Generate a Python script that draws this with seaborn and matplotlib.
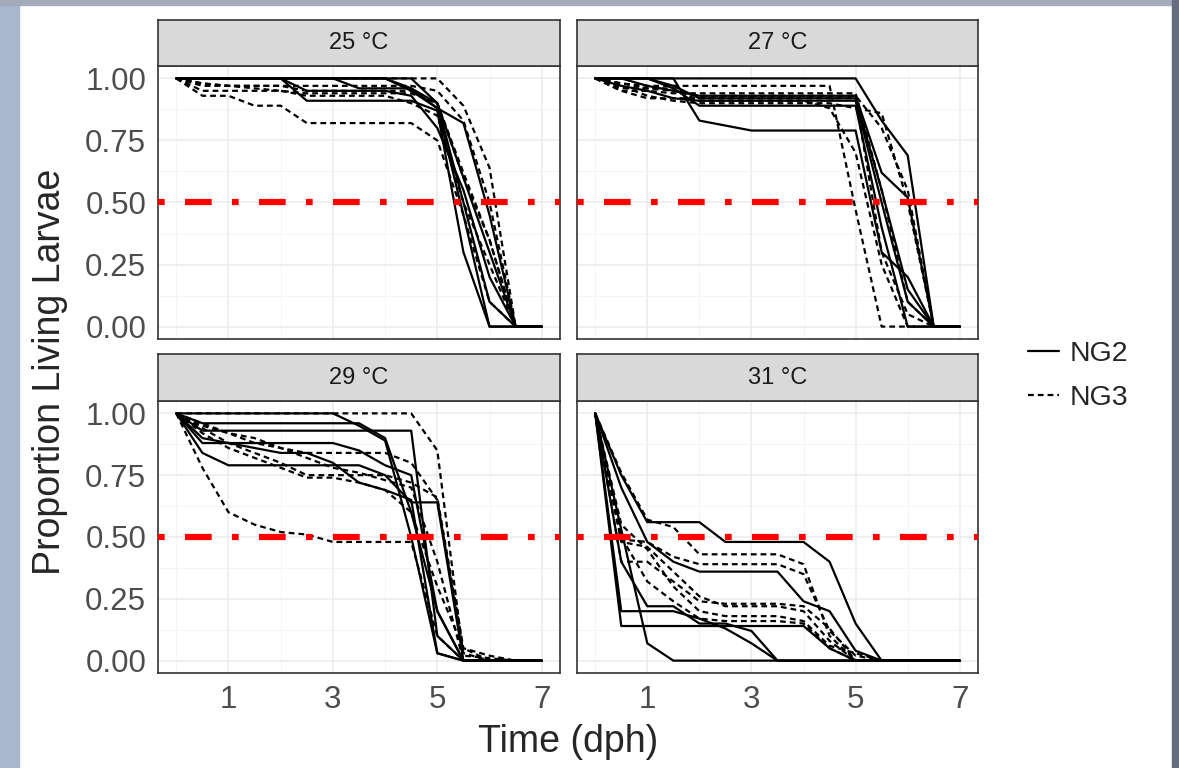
import matplotlib
matplotlib.use("Agg")
import matplotlib.pyplot as plt
import pandas as pd
import seaborn as sns
from matplotlib.lines import Line2D
from matplotlib.patches import Rectangle
from matplotlib.ticker import FormatStrFormatter

# ---- data (proportion of living larvae per replicate) ----
time_dph = [0, 0.5, 1, 1.5, 2, 2.5, 3, 3.5, 4, 4.5, 5, 5.5, 6, 6.5, 7]
temps = ["25 °C", "27 °C", "29 °C", "31 °C"]
strains = ["NG2", "NG3"]

ng2_25 = [
    [1, 1, 1, 1, 1, 1, 1, 1, 1, 0.95, 0.88, 0.45, 0, 0, 0],
    [1, 1, 1, 1, 1, 0.91, 0.91, 0.91, 0.91, 0.91, 0.87, 0.30, 0, 0, 0],
    [1, 1, 1, 1, 1, 1, 1, 0.96, 0.96, 0.96, 0.90, 0.60, 0.30, 0, 0],
    [1, 1, 1, 1, 1, 1, 1, 1, 1, 0.96, 0.88, 0.82, 0.45, 0, 0],
    [1, 1, 1, 1, 1, 0.95, 0.95, 0.95, 0.95, 0.93, 0.80, 0.55, 0.20, 0, 0],
    [1, 1, 1, 1, 1, 1, 1, 1, 1, 1, 0.90, 0.50, 0.10, 0, 0],
]
ng3_25 = [
    [1, 0.93, 0.93, 0.89, 0.89, 0.82, 0.82, 0.82, 0.82, 0.82, 0.75, 0.45, 0.10, 0, 0],
    [1, 0.97, 0.97, 0.97, 0.97, 0.95, 0.95, 0.95, 0.95, 0.95, 0.90, 0.62, 0.35, 0, 0],
    [1, 1, 1, 1, 1, 1, 1, 1, 1, 1, 1, 0.89, 0.64, 0, 0],
    [1, 0.98, 0.97, 0.97, 0.97, 0.97, 0.97, 0.97, 0.97, 0.97, 0.95, 0.83, 0.50, 0, 0],
    [1, 0.95, 0.95, 0.95, 0.95, 0.93, 0.93, 0.93, 0.93, 0.90, 0.85, 0.50, 0.25, 0, 0],
    [1, 0.98, 0.97, 0.96, 0.95, 0.94, 0.94, 0.94, 0.94, 0.94, 0.90, 0.60, 0.35, 0, 0],
]
ng2_27 = [
    [1, 1, 1, 1, 1, 1, 1, 1, 1, 1, 1, 0.83, 0.69, 0, 0],
    [1, 1, 0.97, 0.95, 0.93, 0.93, 0.93, 0.93, 0.93, 0.93, 0.93, 0.62, 0.52, 0, 0],
    [1, 0.97, 0.95, 0.92, 0.91, 0.91, 0.91, 0.91, 0.91, 0.91, 0.91, 0.50, 0.10, 0, 0],
    [1, 1, 1, 0.96, 0.89, 0.89, 0.89, 0.89, 0.89, 0.89, 0.89, 0.40, 0, 0, 0],
    [1, 1, 1, 1, 0.83, 0.81, 0.79, 0.79, 0.79, 0.79, 0.79, 0.30, 0.20, 0, 0],
    [1, 1, 1, 0.97, 0.92, 0.92, 0.92, 0.92, 0.92, 0.92, 0.92, 0.55, 0.15, 0, 0],
]
ng3_27 = [
    [1, 0.98, 0.97, 0.97, 0.97, 0.97, 0.97, 0.97, 0.97, 0.97, 0.47, 0, 0, 0, 0],
    [1, 0.96, 0.96, 0.96, 0.91, 0.91, 0.91, 0.91, 0.91, 0.88, 0.70, 0.25, 0, 0, 0],
    [1, 0.97, 0.93, 0.91, 0.90, 0.90, 0.90, 0.90, 0.90, 0.90, 0.88, 0.86, 0.50, 0, 0],
    [1, 0.95, 0.92, 0.92, 0.92, 0.92, 0.92, 0.92, 0.92, 0.92, 0.92, 0.30, 0.05, 0, 0],
    [1, 0.98, 0.96, 0.95, 0.93, 0.93, 0.93, 0.93, 0.93, 0.93, 0.93, 0.80, 0.55, 0, 0],
    [1, 0.95, 0.95, 0.94, 0.94, 0.94, 0.94, 0.94, 0.94, 0.94, 0.94, 0.55, 0.10, 0, 0],
]
ng2_29 = [
    [1, 1, 1, 1, 1, 1, 1, 0.95, 0.89, 0.50, 0.03, 0, 0, 0, 0],
    [1, 0.96, 0.96, 0.96, 0.96, 0.96, 0.96, 0.96, 0.90, 0.60, 0.20, 0, 0, 0, 0],
    [1, 0.93, 0.93, 0.93, 0.93, 0.93, 0.93, 0.93, 0.93, 0.93, 0.10, 0, 0, 0, 0],
    [1, 0.88, 0.88, 0.88, 0.88, 0.88, 0.88, 0.85, 0.79, 0.75, 0.20, 0, 0, 0, 0],
    [1, 0.84, 0.79, 0.79, 0.79, 0.79, 0.79, 0.79, 0.75, 0.64, 0.64, 0, 0, 0, 0],
    [1, 0.90, 0.88, 0.86, 0.84, 0.84, 0.80, 0.72, 0.69, 0.65, 0.03, 0, 0, 0, 0],
]
ng3_29 = [
    [1, 0.78, 0.60, 0.55, 0.52, 0.51, 0.48, 0.48, 0.48, 0.48, 0.10, 0, 0, 0, 0],
    [1, 1, 1, 1, 1, 1, 1, 1, 1, 1, 0.85, 0.02, 0.01, 0, 0],
    [1, 0.95, 0.92, 0.88, 0.86, 0.84, 0.84, 0.84, 0.84, 0.80, 0.65, 0.03, 0, 0, 0],
    [1, 0.94, 0.88, 0.84, 0.80, 0.75, 0.75, 0.75, 0.75, 0.72, 0.66, 0.05, 0.02, 0, 0],
    [1, 0.92, 0.86, 0.82, 0.78, 0.74, 0.74, 0.72, 0.69, 0.60, 0.30, 0.05, 0, 0, 0],
    [1, 0.96, 0.92, 0.90, 0.86, 0.82, 0.78, 0.76, 0.73, 0.70, 0.40, 0, 0, 0, 0],
]
ng2_31 = [
    [1, 0.20, 0.20, 0.20, 0.17, 0.13, 0.07, 0, 0, 0, 0, 0, 0, 0, 0],
    [1, 0.14, 0.14, 0.14, 0.14, 0.14, 0.14, 0.14, 0.14, 0.05, 0, 0, 0, 0, 0],
    [1, 0.53, 0.07, 0, 0, 0, 0, 0, 0, 0, 0, 0, 0, 0, 0],
    [1, 0.40, 0.22, 0.22, 0.15, 0.15, 0.12, 0, 0, 0, 0, 0, 0, 0, 0],
    [1, 0.75, 0.56, 0.56, 0.56, 0.48, 0.48, 0.48, 0.48, 0.40, 0.15, 0, 0, 0, 0],
    [1, 0.70, 0.48, 0.40, 0.36, 0.36, 0.36, 0.36, 0.24, 0.20, 0.04, 0, 0, 0, 0],
]
ng3_31 = [
    [1, 0.76, 0.57, 0.54, 0.43, 0.43, 0.43, 0.43, 0.39, 0.10, 0, 0, 0, 0, 0],
    [1, 0.49, 0.48, 0.42, 0.39, 0.39, 0.39, 0.39, 0.35, 0.12, 0.02, 0, 0, 0, 0],
    [1, 0.40, 0.40, 0.32, 0.24, 0.23, 0.23, 0.23, 0.22, 0.13, 0, 0, 0, 0, 0],
    [1, 0.48, 0.46, 0.36, 0.26, 0.22, 0.22, 0.22, 0.20, 0.08, 0, 0, 0, 0, 0],
    [1, 0.50, 0.32, 0.24, 0.17, 0.16, 0.16, 0.16, 0.15, 0.05, 0, 0, 0, 0, 0],
    [1, 0.55, 0.45, 0.30, 0.20, 0.18, 0.18, 0.18, 0.16, 0.06, 0.03, 0, 0, 0, 0],
]
ng2_by_temp = [ng2_25, ng2_27, ng2_29, ng2_31]
ng3_by_temp = [ng3_25, ng3_27, ng3_29, ng3_31]
threshold = 0.5

rows = []
for temp, ng2, ng3 in zip(temps, ng2_by_temp, ng3_by_temp):
    for strain, reps in zip(strains, (ng2, ng3)):
        for i, vals in enumerate(reps):
            for t, p in zip(time_dph, vals):
                rows.append({"temp": temp, "strain": strain, "rep": f"{strain}_{i}",
                             "time": t, "prop": p})
df = pd.DataFrame(rows)

# ---- style ---------------------------------------------------------------
sns.set_theme(style="white")
plt.rcParams["font.family"] = ["Liberation Sans", "DejaVu Sans"]

W, H = 1179, 768
LW = 1.6
NG3_DASH = (2.6, 1.8)
dash_map = {"NG2": "", "NG3": NG3_DASH}

fig = plt.figure(figsize=(W / 100, H / 100), dpi=100, facecolor="white")

# slide background around the pasted chart
fig.add_artist(Rectangle((0, 0), 19 / W, 1, transform=fig.transFigure,
                         color="#A8B6CE", zorder=0))
fig.add_artist(Rectangle((0, 1 - 5 / H), 1, 5 / H, transform=fig.transFigure,
                         color="#A3ABBA", zorder=0))
fig.add_artist(Rectangle((1172 / W, 0), 7 / W, 1, transform=fig.transFigure,
                         color="#646E7E", zorder=0))

col_x = [(158, 560), (577, 978)]
row_y = [(66, 339, 20), (401, 673, 354)]  # panel top, panel bottom, strip top

for k, temp in enumerate(temps):
    r, c = divmod(k, 2)
    x0, x1 = col_x[c]
    ptop, pbot, stop = row_y[r]
    ax = fig.add_axes([x0 / W, 1 - pbot / H, (x1 - x0) / W, (pbot - ptop) / H])
    sax = fig.add_axes([x0 / W, 1 - ptop / H, (x1 - x0) / W, (ptop - stop) / H])

    sub = df[df["temp"] == temp]
    sns.lineplot(data=sub, x="time", y="prop", units="rep", style="strain",
                 style_order=strains, dashes=dash_map, estimator=None,
                 color="black", lw=LW, legend=False, ax=ax, zorder=3)
    ax.axhline(threshold, color="#FF0000", lw=4.5, zorder=4,
               linestyle=(0, (1.07, 3.25, 4.27, 3.25)))

    ax.set_xlim(-0.35, 7.35)
    ax.set_ylim(-0.05, 1.05)
    ax.set_xticks([1, 3, 5, 7])
    ax.set_xticks([0, 2, 4, 6], minor=True)
    ax.set_yticks([0, 0.25, 0.5, 0.75, 1.0])
    ax.set_yticks([0.125, 0.375, 0.625, 0.875], minor=True)
    ax.yaxis.set_major_formatter(FormatStrFormatter("%.2f"))
    ax.grid(which="major", color="#EBEBEB", lw=1.1)
    ax.grid(which="minor", color="#F3F3F3", lw=0.6)
    ax.set_axisbelow(True)
    ax.set_xlabel("")
    ax.set_ylabel("")
    ax.set_facecolor("white")
    for sp in ax.spines.values():
        sp.set_color("#333333")
        sp.set_linewidth(1.2)
    ax.tick_params(which="major", length=4.5, width=1.1, color="#333333",
                   labelsize=22.5, labelcolor="#4D4D4D", pad=4)
    ax.tick_params(which="minor", length=0)
    if r == 0:
        ax.tick_params(axis="x", which="major", length=0, labelbottom=False)
    if c == 1:
        ax.tick_params(axis="y", which="major", length=0, labelleft=False)

    sax.set_facecolor("#D9D9D9")
    sax.set_xticks([])
    sax.set_yticks([])
    for sp in sax.spines.values():
        sp.set_color("#333333")
        sp.set_linewidth(1.2)
    sax.text(0.5, 0.5, temp, ha="center", va="center", fontsize=17,
             color="#1A1A1A", transform=sax.transAxes)

fig.text(568 / W, 1 - 742 / H, "Time (dph)", ha="center", va="center", fontsize=27)
fig.text(50 / W, 1 - 372 / H, "Proportion Living Larvae", rotation=90,
         ha="center", va="center", fontsize=27)

handles = [Line2D([], [], color="black", lw=LW),
           Line2D([], [], color="black", lw=LW, dashes=NG3_DASH)]
fig.legend(handles, strains, loc="center left", bbox_to_anchor=(1028 / W, 1 - 376 / H),
           frameon=False, fontsize=20.5, handlelength=1.1, handletextpad=0.35,
           borderpad=0, borderaxespad=0, labelspacing=0.65)

fig.savefig("out.png", dpi=100, facecolor=fig.get_facecolor())
